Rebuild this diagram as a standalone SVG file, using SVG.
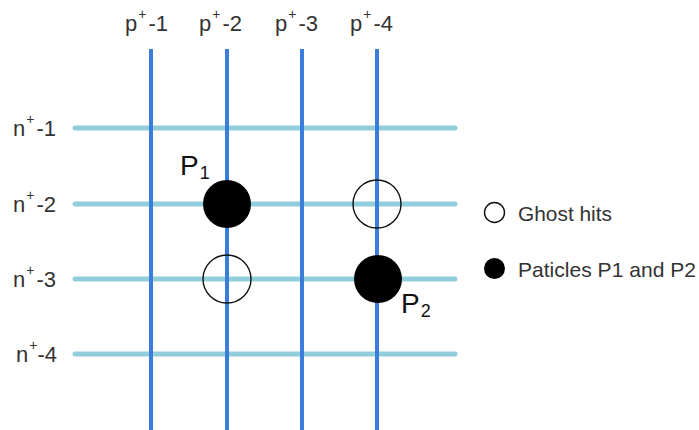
<svg xmlns="http://www.w3.org/2000/svg" width="699" height="430" viewBox="0 0 699 430">
  <style>
    .lbl { font-family: "Liberation Sans", Arial, sans-serif; fill: #333; font-size: 22px; }
    .sup { font-size: 14px; }
    .leg { font-family: "Liberation Sans", Arial, sans-serif; fill: #333; font-size: 21px; }
    .strip-n { stroke: #92cddb; stroke-width: 5; stroke-linecap: round; fill: none; }
    .strip-p { stroke: #3b7ddb; stroke-width: 4; fill: none; }
    .hit { fill: #000; }
    .ghost { fill: none; stroke: #111; stroke-width: 1.4; }
    .pname { font-family: "Liberation Sans", Arial, sans-serif; fill: #111; font-size: 28px; }
    .psub { font-size: 18px; }
  </style>
  <rect width="699" height="430" fill="#fff"/>

  <!-- n+ strips (horizontal) -->
  <g id="n-strips">
    <line class="strip-n" x1="75" y1="128" x2="455" y2="128"/>
    <line class="strip-n" x1="75" y1="204" x2="455" y2="204"/>
    <line class="strip-n" x1="75" y1="279" x2="455" y2="279"/>
    <line class="strip-n" x1="75" y1="354" x2="455" y2="354"/>
  </g>

  <!-- p+ strips (vertical) -->
  <g id="p-strips">
    <line class="strip-p" x1="151" y1="49" x2="151" y2="430"/>
    <line class="strip-p" x1="227" y1="49" x2="227" y2="430"/>
    <line class="strip-p" x1="302" y1="49" x2="302" y2="430"/>
    <line class="strip-p" x1="377" y1="49" x2="377" y2="430"/>
  </g>

  <!-- strip labels -->
  <g id="p-labels">
    <text class="lbl" x="125" y="31">p<tspan class="sup" dx="1" dy="-12">+</tspan><tspan dx="2" dy="12">-1</tspan></text>
    <text class="lbl" x="199" y="31">p<tspan class="sup" dx="1" dy="-12">+</tspan><tspan dx="2" dy="12">-2</tspan></text>
    <text class="lbl" x="275" y="31">p<tspan class="sup" dx="1" dy="-12">+</tspan><tspan dx="2" dy="12">-3</tspan></text>
    <text class="lbl" x="350" y="31">p<tspan class="sup" dx="1" dy="-12">+</tspan><tspan dx="2" dy="12">-4</tspan></text>
  </g>
  <g id="n-labels">
    <text class="lbl" x="13" y="136">n<tspan class="sup" dx="1" dy="-12">+</tspan><tspan dx="2" dy="12">-1</tspan></text>
    <text class="lbl" x="13" y="212">n<tspan class="sup" dx="1" dy="-12">+</tspan><tspan dx="2" dy="12">-2</tspan></text>
    <text class="lbl" x="13" y="287">n<tspan class="sup" dx="1" dy="-12">+</tspan><tspan dx="2" dy="12">-3</tspan></text>
    <text class="lbl" x="16" y="362">n<tspan class="sup" dx="1" dy="-12">+</tspan><tspan dx="0" dy="12">-4</tspan></text>
  </g>

  <!-- hits -->
  <g id="hit-p1">
    <circle class="hit" cx="227" cy="204" r="24"/>
    <text class="pname" x="180" y="175">P<tspan class="psub" dx="1" dy="4">1</tspan></text>
  </g>
  <g id="ghost-1">
    <circle class="ghost" cx="227" cy="279" r="24"/>
  </g>
  <g id="ghost-2">
    <circle class="ghost" cx="377" cy="204" r="24"/>
  </g>
  <g id="hit-p2">
    <circle class="hit" cx="378" cy="279" r="24"/>
    <text class="pname" x="401" y="313">P<tspan class="psub" dx="1" dy="4">2</tspan></text>
  </g>

  <!-- legend -->
  <g id="legend">
    <circle class="ghost" cx="494.5" cy="212.5" r="10"/>
    <text class="leg" x="518" y="221" textLength="94" lengthAdjust="spacingAndGlyphs">Ghost hits</text>
    <circle class="hit" cx="494.5" cy="268.5" r="10.5"/>
    <text class="leg" x="518" y="277" textLength="178" lengthAdjust="spacingAndGlyphs">Paticles P1 and P2</text>
  </g>
</svg>
